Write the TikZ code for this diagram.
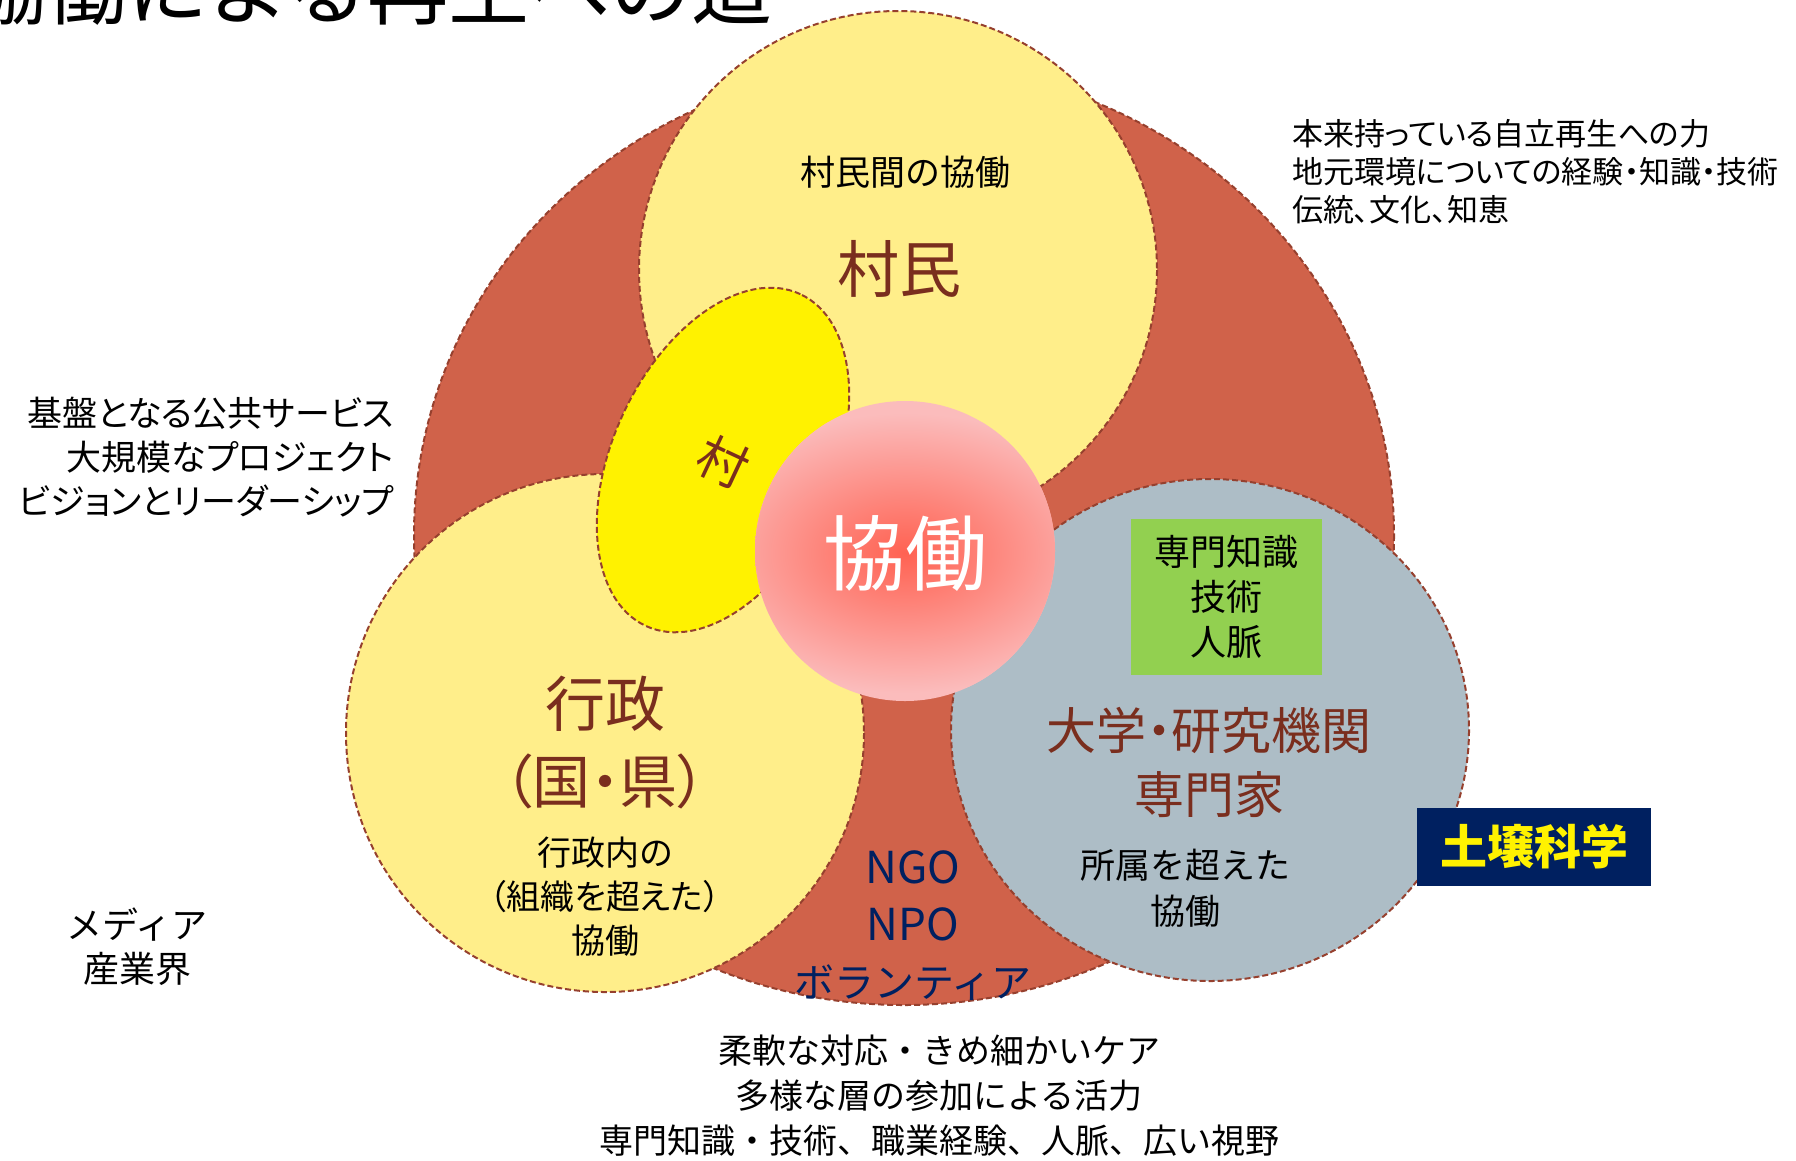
\documentclass[tikz,border=0pt]{standalone}
\usepackage{fontspec}
\setmainfont{Noto Sans CJK JP}
\newfontfamily\jpp[RawFeature=+palt]{Noto Sans CJK JP}
\newcommand\myfs[2]{\fontsize{#1}{#2}\selectfont}
\definecolor{redc}{RGB}{208,98,74}
\definecolor{yel}{RGB}{255,238,138}
\definecolor{greyc}{RGB}{173,189,198}
\definecolor{brd}{RGB}{150,64,46}
\definecolor{brn}{RGB}{122,46,30}
\definecolor{navy}{RGB}{0,32,96}
\definecolor{grn}{RGB}{146,208,80}
\definecolor{pinkc}{RGB}{251,188,188}
\definecolor{glowc}{RGB}{255,98,82}
\tikzset{
  blob/.style={draw=brd, line width=2pt, dash pattern=on 6pt off 3pt},
  brtext/.style={text=brn, inner sep=0pt, align=center},
  blk/.style={text=black, inner sep=0pt, align=center},
}
\begin{document}
\begin{tikzpicture}[x=1pt,y=-1pt]
\clip (0,0) rectangle (1796,1160);
\fill[white] (0,0) rectangle (1796,1160);
% title (cut at the top)
\node[anchor=base east, inner sep=0pt, font=\myfs{81}{81}] (title) at (773,18) {協働による再生への道};
% big red ellipse
\filldraw[fill=redc, blob] (904,535) ellipse [x radius=490, y radius=470];
% three circles
\filldraw[fill=yel, blob] (898,270) circle [radius=259];
\filldraw[fill=yel, blob] (605,733) circle [radius=259];
\filldraw[fill=greyc, blob] (1210,730) ellipse [x radius=259, y radius=251];
% village ellipse
\filldraw[fill=yellow, blob, rotate around={65:(723,460)}] (723,460) ellipse [x radius=183pt, y radius=110pt];
% centre circle with glow
\fill[pinkc] (905,551) circle [radius=150];
\begin{scope}
  \clip (905,551) circle [radius=150];
  \shade[inner color=glowc, outer color=pinkc] (905,553) ellipse [x radius=215, y radius=140];
\end{scope}
% texts
\node[blk, font=\myfs{35}{35}] (t1) at (905,172) {村民間の協働};
\node[brtext, font=\myfs{62}{62}] (villagers) at (899,269) {村民};
\node[brtext, rotate=-25, font=\myfs{50}{50}] (village) at (723,462) {村};
\node[inner sep=0pt, text=white, font=\myfs{82}{82}] (collab) at (905,553) {協働};
\node[brtext, font=\myfs{60}{60}] (gov) at (605,704) {行政};
\node[brtext, font=\myfs{58}{58}\jpp] (govsub) at (605,781) {（国・県）};
\node[blk, font=\myfs{34}{44}\jpp] (govtxt) at (605,897) {行政内の\\（組織を超えた）\\協働};
\node[brtext, font=\myfs{50}{64}\jpp] (univ) at (1209,762) {大学・研究機関\\専門家};
\node[blk, font=\myfs{35}{46}] (univtxt) at (1185,888) {所属を超えた\\協働};
\node[fill=grn, minimum width=191pt, minimum height=156pt, inner sep=0pt, align=center, font=\myfs{36}{45}] (expert) at (1226.5,597) {専門知識\\技術\\人脈};
\node[fill=navy, text=yellow, minimum width=234pt, minimum height=78pt, inner sep=0pt, font=\myfs{47}{47}\bfseries] (soil) at (1534,847) {土壌科学};
\node[inner sep=0pt, align=center, text=navy, font=\myfs{44}{57}] (ngo) at (913,926) {NGO\\NPO\\{\myfs{40}{57}ボランティア}};
\node[blk, anchor=west, align=left, font=\myfs{31}{38}\jpp] (righttxt) at (1292,172) {本来持っている自立再生への力\\地元環境についての経験・知識・技術\\伝統、文化、知恵};
\node[blk, anchor=east, align=right, font=\myfs{35}{44}\jpp] (lefttxt) at (394,457) {基盤となる公共サービス\\大規模なプロジェクト\\ビジョンとリーダーシップ};
\node[blk, font=\myfs{36}{44}] (media) at (137,947) {メディア\\産業界};
\node[blk, font=\myfs{34}{45}] (bottomtxt) at (939,1096) {柔軟な対応・きめ細かいケア\\多様な層の参加による活力\\専門知識・技術、職業経験、人脈、広い視野};
\end{tikzpicture}
\end{document}
